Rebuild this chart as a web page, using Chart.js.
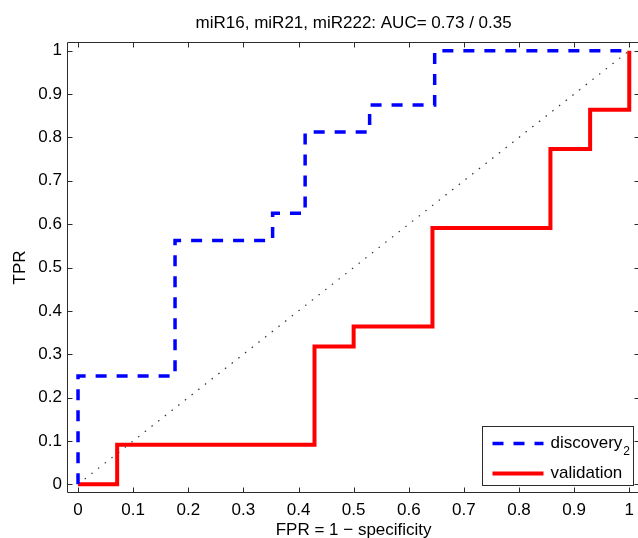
<!DOCTYPE html>
<html>
<head>
<meta charset="utf-8">
<script src="https://cdn.jsdelivr.net/npm/chart.js@4/dist/chart.umd.min.js"></script>
<style>
  html, body { margin: 0; padding: 0; background: #fff; overflow: hidden; }
  canvas { display: block; }
</style>
</head>
<body>
<canvas id="roc" width="641" height="538"></canvas>
<script>
// Datos
const titulo = 'miR16, miR21, miR222: AUC= 0.73 / 0.35';
const etiquetaX = 'FPR = 1 \u2212 specificity';
const etiquetaY = 'TPR';
const marcas = [0, 0.1, 0.2, 0.3, 0.4, 0.5, 0.6, 0.7, 0.8, 0.9, 1];

const etiquetas = ['discovery', 'validation'];
const subindices = ['2', ''];

// curva discovery (puntos de la ROC)
const discFPR = [0, 0, 0.176, 0.353, 0.412, 0.529, 0.647, 1];
const discTPR = [0, 0.25, 0.5625, 0.625, 0.8125, 0.875, 1, 1];

// curva validation
const valFPR = [0, 0.071, 0.429, 0.5, 0.643, 0.857, 0.929, 1];
const valTPR = [0, 0.091, 0.318, 0.364, 0.591, 0.773, 0.864, 1];

// diagonal de referencia
const diagX = [0, 1];
const diagY = [0, 1];

const fuente = "'Liberation Sans', Arial, Helvetica, sans-serif";
Chart.defaults.font.family = fuente;
Chart.defaults.color = '#000';

const puntos = (xs, ys) => xs.map((x, i) => ({ x: x, y: ys[i] }));

// 1. Marco y marcas hacia dentro (estilo MATLAB)
const marcoPlugin = {
    id: 'marco',
    beforeDatasetsDraw(chart) {
        const { ctx, chartArea: a, scales } = chart;
        const L = Math.round(a.left) + 0.5, R = Math.round(a.right) - 0.5;
        const T = Math.round(a.top) + 0.5, B = Math.round(a.bottom) - 0.5;
        ctx.save();
        ctx.strokeStyle = '#2b2b2b';
        ctx.lineWidth = 1;
        ctx.beginPath();
        ctx.rect(L, T, R - L, B - T);
        const largo = 5;
        marcas.forEach(v => {
            const px = Math.round(scales.x.getPixelForValue(v)) + 0.5;
            ctx.moveTo(px, B); ctx.lineTo(px, B - largo);
            ctx.moveTo(px, T); ctx.lineTo(px, T + largo);
            const py = Math.round(scales.y.getPixelForValue(v)) + 0.5;
            ctx.moveTo(L, py); ctx.lineTo(L + largo, py);
            ctx.moveTo(R, py); ctx.lineTo(R - largo, py);
        });
        ctx.stroke();
        ctx.restore();
    }
};

// 2. Leyenda dentro del área (abajo a la derecha)
const leyendaPlugin = {
    id: 'leyenda',
    afterDraw(chart) {
        const { ctx, chartArea: a } = chart;
        const w = 151, h = 59;
        const x0 = Math.round(a.right - 7 - w) + 0.5;
        const y0 = Math.round(a.bottom - 8 - h) + 0.5;
        ctx.save();
        ctx.fillStyle = '#fff';
        ctx.fillRect(x0, y0, w, h);
        ctx.strokeStyle = '#2b2b2b';
        ctx.lineWidth = 1;
        ctx.setLineDash([]);
        ctx.strokeRect(x0, y0, w, h);

        etiquetas.forEach((txt, i) => {
            const ds = chart.data.datasets[i];
            const y = y0 + 17 + i * 30;
            ctx.beginPath();
            ctx.setLineDash(ds.borderDash || []);
            ctx.lineWidth = ds.borderWidth;
            ctx.strokeStyle = ds.borderColor;
            ctx.lineCap = 'butt';
            ctx.moveTo(x0 + 10, y);
            ctx.lineTo(x0 + 61, y);
            ctx.stroke();
            ctx.setLineDash([]);

            ctx.fillStyle = '#000';
            ctx.textBaseline = 'middle';
            ctx.textAlign = 'left';
            ctx.font = '17px ' + fuente;
            ctx.fillText(txt, x0 + 68, y);
            if (subindices[i]) {
                const ancho = ctx.measureText(txt).width;
                ctx.font = '12px ' + fuente;
                ctx.fillText(subindices[i], x0 + 69 + ancho, y + 8);
            }
        });
        ctx.restore();
    }
};

// 3. Gráfica
const ctx = document.getElementById('roc').getContext('2d');
new Chart(ctx, {
    type: 'line',
    data: {
        datasets: [
            {
                label: etiquetas[0],
                data: puntos(discFPR, discTPR),
                stepped: true,
                borderColor: '#0000ff',
                borderWidth: 3.5,
                borderDash: [11, 10],
                borderCapStyle: 'butt',
                borderJoinStyle: 'miter',
                pointRadius: 0,
                fill: false
            },
            {
                label: etiquetas[1],
                data: puntos(valFPR, valTPR),
                stepped: true,
                borderColor: '#ff0000',
                borderWidth: 4,
                borderJoinStyle: 'miter',
                pointRadius: 0,
                fill: false
            },
            {
                label: 'diagonal',
                data: puntos(diagX, diagY),
                borderColor: '#333',
                borderWidth: 1.2,
                borderDash: [1.5, 7],
                pointRadius: 0,
                fill: false
            }
        ]
    },
    options: {
        responsive: false,
        animation: false,
        devicePixelRatio: 1,
        layout: { padding: 0 },
        scales: {
            x: {
                type: 'linear',
                min: -0.02,
                max: 1.02,
                grid: { display: false, drawTicks: false },
                border: { display: false },
                afterBuildTicks: s => { s.ticks = marcas.map(v => ({ value: v })); },
                afterFit: s => { s.height = 45; },
                ticks: { padding: 7, autoSkip: false, maxRotation: 0, font: { size: 17 }, callback: v => String(v) },
                title: { display: true, text: etiquetaX, font: { size: 17 }, padding: { top: 0, bottom: -2.5 } }
            },
            y: {
                type: 'linear',
                min: -0.02,
                max: 1.02,
                grid: { display: false, drawTicks: false },
                border: { display: false },
                afterBuildTicks: s => { s.ticks = marcas.map(v => ({ value: v })); },
                afterFit: s => { s.width = 67; },
                ticks: { padding: 5, autoSkip: false, font: { size: 17 }, callback: v => String(v) },
                title: { display: true, text: etiquetaY, font: { size: 17 }, padding: { top: 10, bottom: 0 } }
            }
        },
        plugins: {
            legend: { display: false },
            tooltip: { enabled: false },
            title: {
                display: true,
                text: titulo,
                fullSize: false,
                color: '#000',
                font: { size: 17, weight: 'normal' },
                padding: { top: 13, bottom: 8.6 }
            }
        }
    },
    plugins: [marcoPlugin, leyendaPlugin]
});
</script>
</body>
</html>
